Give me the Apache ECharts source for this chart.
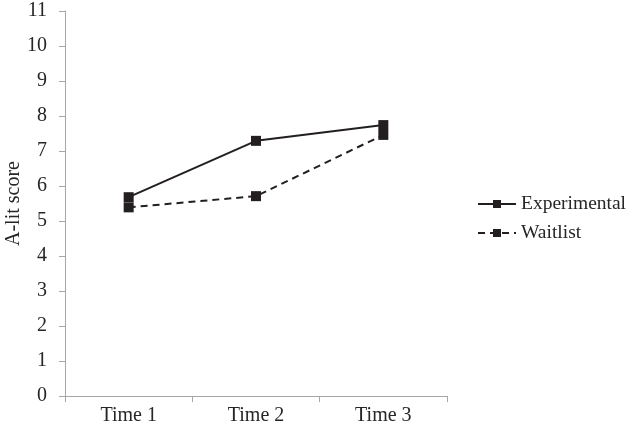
<!DOCTYPE html>
<html>
<head>
<meta charset="utf-8">
<script src="https://cdn.jsdelivr.net/npm/echarts@6/dist/echarts.min.js"></script>
<style>html,body{margin:0;padding:0;background:#fff}#c{width:628px;height:434px}</style>
</head>
<body>
<div id="c"></div>
<script>
const categories = ['Time 1', 'Time 2', 'Time 3'];
const experimental = [5.68, 7.29, 7.74];
const waitlist = [5.39, 5.71, 7.46];
const yTicks = { min: 0, max: 11, interval: 1 };

const font = 'Liberation Serif';
const txt = '#262626';
const chart = echarts.init(document.getElementById('c'), null, { renderer: 'canvas' });
chart.setOption({
  animation: false,
  backgroundColor: '#fff',
  grid: { left: 65, right: 181, top: 11, bottom: 38, containLabel: false, outerBoundsMode: 'none' },
  legend: {
    orient: 'vertical',
    left: 472, top: 189,
    itemWidth: 38, itemHeight: 10, itemGap: 9,
    textStyle: { fontFamily: font, fontSize: 19.5, color: txt },
    data: [{ name: 'Experimental' }, { name: 'Waitlist' }]
  },
  xAxis: {
    type: 'category',
    data: categories,
    boundaryGap: true,
    axisLine: { lineStyle: { color: '#a6a6a6', width: 1 } },
    axisTick: { show: true, length: 6, lineStyle: { color: '#a6a6a6' } },
    axisLabel: { fontFamily: font, fontSize: 20, color: txt, margin: 10 }
  },
  yAxis: {
    type: 'value',
    min: yTicks.min, max: yTicks.max, interval: yTicks.interval,
    name: 'A-lit score',
    nameLocation: 'middle',
    nameGap: 41,
    nameMoveOverlap: false,
    nameTextStyle: { fontFamily: font, fontSize: 20, color: txt },
    axisLine: { show: true, lineStyle: { color: '#a6a6a6', width: 1 } },
    axisTick: { show: true, length: 6, lineStyle: { color: '#a6a6a6' } },
    axisLabel: { fontFamily: font, fontSize: 20, color: txt, margin: 18 },
    splitLine: { show: false }
  },
  series: [
    {
      name: 'Experimental', type: 'line', data: experimental,
      symbol: 'rect', symbolSize: 10,
      itemStyle: { color: '#231f20' },
      lineStyle: { color: '#231f20', width: 2, type: 'solid' }
    },
    {
      name: 'Waitlist', type: 'line', data: waitlist,
      symbol: 'rect', symbolSize: 10,
      itemStyle: { color: '#231f20' },
      lineStyle: { color: '#231f20', width: 2, type: [7, 5] }
    }
  ]
});
</script>
</body>
</html>
